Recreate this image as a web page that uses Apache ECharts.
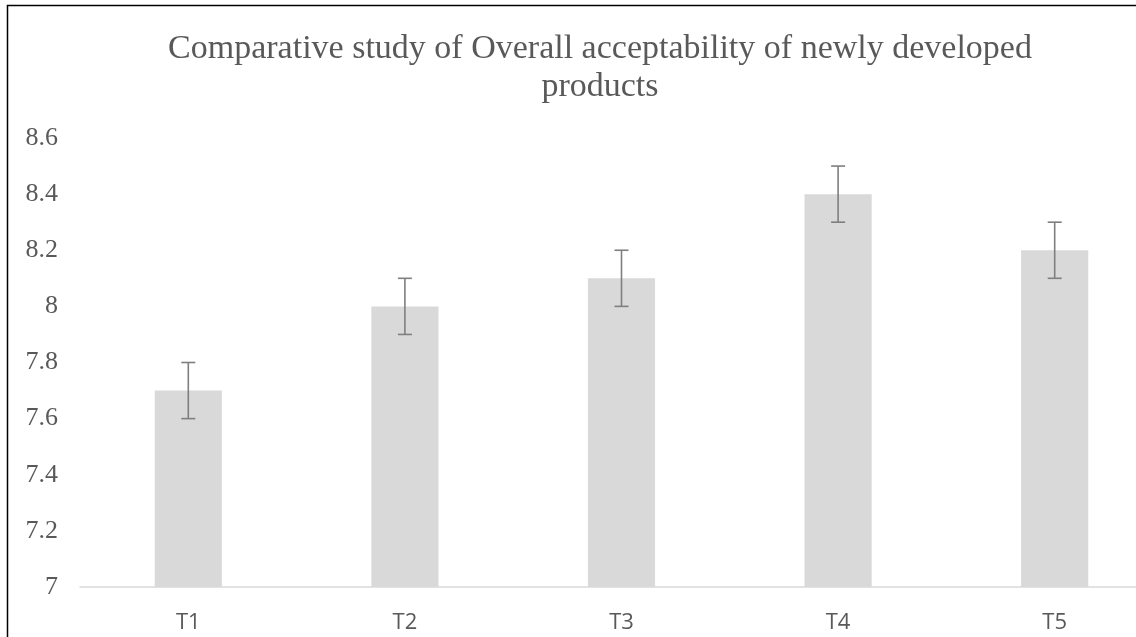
<!DOCTYPE html>
<html><head><meta charset="utf-8">
<script src="https://cdn.jsdelivr.net/npm/echarts@6/dist/echarts.min.js"></script>
<style>html,body{margin:0;padding:0;background:#fff;overflow:hidden;width:1136px;height:637px}#c{width:1175px;height:637px}</style>
</head><body><div id="c"></div>
<script>
const categories = ['T1','T2','T3','T4','T5'];
const values = [7.7, 8.0, 8.1, 8.4, 8.2];
const errors = [0.1, 0.1, 0.1, 0.1, 0.1];
const titleText = 'Comparative study of Overall acceptability of newly developed\nproducts';

const chart = echarts.init(document.getElementById('c'), null, {renderer:'canvas'});
const errData = categories.map((c,i)=>[i, values[i]-errors[i], values[i]+errors[i]]);
chart.setOption({
  animation:false,
  backgroundColor:'#fff',
  title:{
    text:titleText, left:595, top:25, textAlign:'center',
    textStyle:{fontFamily:'Liberation Serif', fontSize:34, fontWeight:'normal', color:'#595959', lineHeight:38}
  },
  grid:{left:80, width:1083, top:138, bottom:50, containLabel:false},
  xAxis:{
    type:'category', data:categories,
    axisLine:{lineStyle:{color:'#d9d9d9', width:1.5}},
    axisTick:{show:false},
    axisLabel:{fontFamily:'Open Sans', fontSize:22, color:'#595959', margin:25}
  },
  yAxis:{
    type:'value', min:7, max:8.6, interval:0.2,
    axisLine:{show:false}, axisTick:{show:false},
    splitLine:{show:false},
    axisLabel:{fontFamily:'Liberation Serif', fontSize:26, color:'#595959', margin:22,
      formatter:v=>String(parseFloat(v.toFixed(1)))}
  },
  series:[
    {type:'bar', data:values, barWidth:'31%', itemStyle:{color:'#d9d9d9'}},
    {type:'custom', data:errData, z:5,
     renderItem:(params, api)=>{
       const x = api.value(0);
       const lo = api.coord([x, api.value(1)]);
       const hi = api.coord([x, api.value(2)]);
       const hw = 7;
       const st = {stroke:'#7f7f7f', lineWidth:1.6};
       return {type:'group', children:[
         {type:'line', shape:{x1:lo[0],y1:lo[1],x2:hi[0],y2:hi[1]}, style:st},
         {type:'line', shape:{x1:lo[0]-hw,y1:lo[1],x2:lo[0]+hw,y2:lo[1]}, style:st},
         {type:'line', shape:{x1:hi[0]-hw,y1:hi[1],x2:hi[0]+hw,y2:hi[1]}, style:st}
       ]};
     }}
  ],
  graphic:[{type:'rect', shape:{x:7.5, y:5.5, width:1300, height:700}, style:{fill:null, stroke:'#000', lineWidth:1.5}, z:100}]
});
</script></body></html>
